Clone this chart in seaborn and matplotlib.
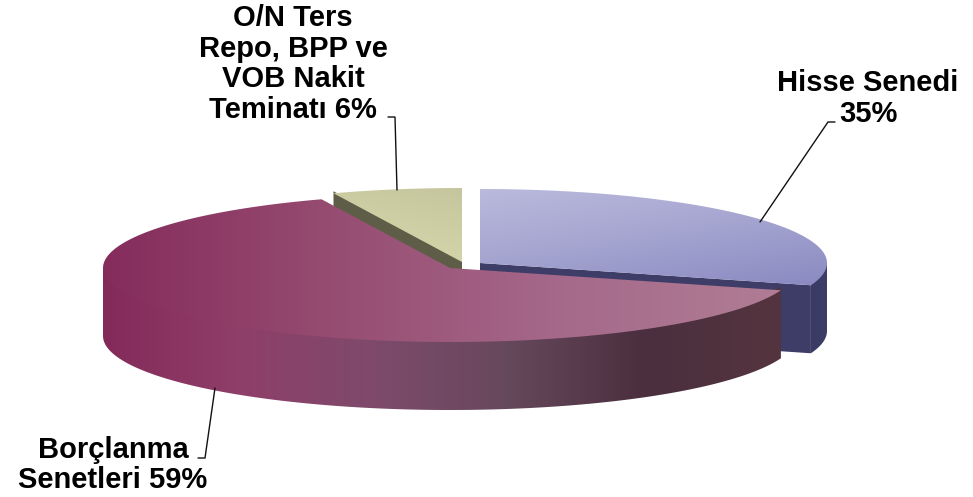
import numpy as np
import matplotlib
matplotlib.use("Agg")
import matplotlib.pyplot as plt
from matplotlib.patches import Polygon
import seaborn as sns

# Portfolio shares, clockwise from twelve o'clock
categories = ["Hisse Senedi", "Borçlanma Senetleri", "O/N Ters Repo, BPP ve VOB Nakit Teminatı"]
shares = [35, 59, 6]
label_texts = ["Hisse Senedi\n35%", "Borçlanma\nSenetleri 59%", "O/N Ters\nRepo, BPP ve\nVOB Nakit\nTeminatı 6%"]

sns.set_theme(style="white")
plt.rcParams["font.family"] = ["Liberation Sans", "DejaVu Sans"]

W, H = 973, 497
fig = plt.figure(figsize=(W / 100, H / 100), dpi=100, facecolor="white")
ax = fig.add_axes([0, 0, 1, 1])

RX, RY, DEPTH = 347, 74, 68


def view_angle(theta):
    # The 3D view compresses sweep on the right of the disc and stretches it elsewhere
    return np.interp(theta, [0, 120, 340, 360], [0, 101, 340, 360])


def rim(cx, cy, start, stop, dz=0, n=160):
    phi = np.radians(np.linspace(start, stop, n))
    return np.column_stack([cx + RX * np.sin(phi), cy - RY * np.cos(phi) + dz])


def gradient_fill(points, colors, direction=(1, 0), zorder=1):
    poly = Polygon(points, closed=True, transform=ax.transData, facecolor="none", edgecolor="none")
    ax.add_patch(poly)
    x0, y0 = points.min(axis=0)
    x1, y1 = points.max(axis=0)
    xx, yy = np.meshgrid(np.linspace(0, 1, 300), np.linspace(0, 1, 200))
    field = direction[0] * xx + direction[1] * yy
    field = (field - field.min()) / (field.max() - field.min())
    cmap = sns.blend_palette(colors, as_cmap=True)
    im = ax.imshow(field, extent=(x0, x1, y1, y0), cmap=cmap, aspect="auto",
                   interpolation="bilinear", zorder=zorder)
    im.set_clip_path(poly)


edges = np.concatenate([[0], np.cumsum(shares)]) / sum(shares) * 360
a0, a1, a2, a3 = view_angle(edges)

# Equity slice, pulled to the right; the side runs a little under the top so no seam shows
hx, hy = 480, 263
cut = np.array([[hx, hy], *rim(hx, hy, a1, a1, n=1), *rim(hx, hy, a1, a1, DEPTH, n=1), [hx, hy + DEPTH]])
ax.add_patch(Polygon(cut, closed=True, facecolor="#3D3D67", edgecolor="none", zorder=1))
side = np.vstack([rim(hx, hy, 90, a1, -3), rim(hx, hy, a1, 90, DEPTH)])
gradient_fill(side, ["#3A3A66", "#3D3D68"], zorder=1)
top = np.vstack([[[hx, hy]], rim(hx, hy, a0, a1)])
gradient_fill(top, ["#BABADD", "#A4A4D0", "#8A8AC2"], direction=(0.55, 1), zorder=2)

# Cash collateral slice, pulled to the top; its cut face runs down behind the debt slice
nx, ny = 462, 262
cut = np.array([[nx, ny - 2], *rim(nx, ny, a2, a2, -2, n=1), *rim(nx, ny, a2, a2, 16, n=1), [nx, ny + 16]])
ax.add_patch(Polygon(cut, closed=True, facecolor="#5E5E48", edgecolor="none", zorder=3))
top = np.vstack([[[nx, ny]], rim(nx, ny, a2, a3)])
gradient_fill(top, ["#C6C69E", "#D9D9AE"], direction=(-0.4, 1), zorder=4)

# Debt securities slice, in front of the other two
bx, by = 450, 268
side = np.vstack([rim(bx, by, a1, 270, -4), rim(bx, by, 270, a1, DEPTH)])
gradient_fill(side, ["#842A5A", "#8F3F69", "#7E4A6C", "#66485C", "#4B2F3E", "#54343F"], zorder=5)
top = np.vstack([[[bx, by]], rim(bx, by, a1, a2)])
gradient_fill(top, ["#852C5C", "#964C71", "#A5688A", "#B07D95"], zorder=6)

# Leader lines
leaders = [
    ([760, 828, 835], [222, 122, 122]),
    ([215, 205, 198], [388, 458, 458]),
    ([397, 395, 388], [190, 117, 117]),
]
for xs, ys in leaders:
    ax.plot(xs, ys, color="#111111", lw=1.0, zorder=7, solid_joinstyle="miter")

# Data labels
label_pos = [(868, 98.5), (113, 465), (293, 64)]
for (x, y), txt in zip(label_pos, label_texts):
    ax.text(x, y, txt, ha="center", va="center", fontsize=21, fontweight="bold",
            color="black", linespacing=1.13, zorder=8)

ax.set_xlim(0, W)
ax.set_ylim(H, 0)
ax.axis("off")
fig.savefig("out.png", dpi=100, facecolor="white")
